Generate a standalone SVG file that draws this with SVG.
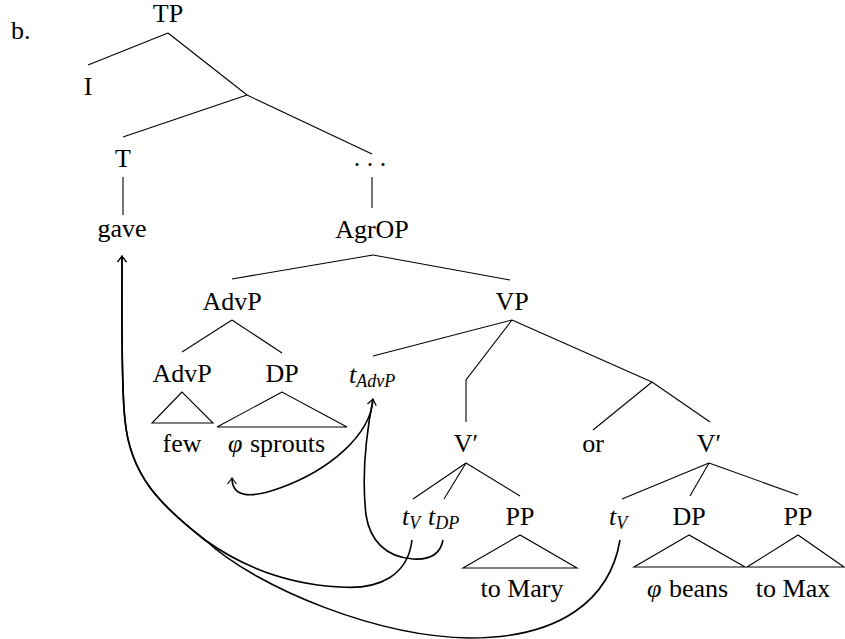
<svg xmlns="http://www.w3.org/2000/svg" width="845" height="639" viewBox="0 0 845 639">
<style>
text{font-size:26px;fill:#000}
.m{text-anchor:middle}
.i{font-style:italic}
.s{font-size:18px;font-style:italic}
.e{fill:none;stroke:#000;stroke-width:1.1}
.a{fill:none;stroke:#000;stroke-width:1.6}
</style>
<defs>
<marker id="arr" viewBox="-7 -6 9 12" markerWidth="9" markerHeight="12" refX="0" refY="0" orient="auto" markerUnits="userSpaceOnUse">
<path d="M -6,-4.5 Q -1.5,-1 0,0 Q -1.5,1 -6,4.5" fill="none" stroke="#000" stroke-width="1.2"/>
</marker>
</defs>
<rect width="845" height="639" fill="#fff"/>
<g font-family="'Liberation Serif', 'Times New Roman', 'DejaVu Serif', serif">
<text x="11" y="39">b.</text>
<g id="edges">
<path class="e" d="M168,33 L88,65"/>
<path class="e" d="M168,33 L247,95"/>
<path class="e" d="M247,95 L123,137"/>
<path class="e" d="M247,95 L372,154"/>
<path class="e" d="M123,177 L123,215"/>
<path class="e" d="M372,177 L372,208"/>
<path class="e" d="M373,255 L232,279"/>
<path class="e" d="M373,255 L510,280"/>
<path class="e" d="M232,320 L182,352"/>
<path class="e" d="M232,320 L282,353"/>
<path class="e" d="M512,320 L373,356"/>
<path class="e" d="M512,320 L466,380 L466,422"/>
<path class="e" d="M512,320 L652,382"/>
<path class="e" d="M652,382 L593,430"/>
<path class="e" d="M652,382 L710,422"/>
<path class="e" d="M466,463 L413,499"/>
<path class="e" d="M466,463 L444,499"/>
<path class="e" d="M466,463 L520,496"/>
<path class="e" d="M709,463 L622,499"/>
<path class="e" d="M709,463 L690,496"/>
<path class="e" d="M709,463 L798,495"/>
<path class="e" d="M182,392 L152,423 L213,423 Z"/>
<path class="e" d="M282,392 L217,427 L347,427 Z"/>
<path class="e" d="M520,535 L463,568 L577,568 Z"/>
<path class="e" d="M689,535 L634,567 L745,567 Z"/>
<path class="e" d="M798,535 L747,567 L844,567 Z"/>
</g>
<g id="arrows">
<path class="a" marker-end="url(#arr)" d="M443,540 C440,556 428,560 413,559 C385,557 370,540 366,515 C362,480 365,440 373,399"/>
<path class="a" marker-end="url(#arr)" d="M373,400 C370,435 330,470 280,488 C255,497 232,500 232,478"/>
<path class="a" marker-end="url(#arr)" d="M412,540 C408,575 380,590 340,587 C285,584 240,565 205,540 C160,505 130,475 125,420 C121,385 122,320 122,256"/>
<path class="a" marker-end="url(#arr)" d="M620,540 C610,600 560,638 470,638 C380,637 260,590 205,540 C160,505 130,475 125,420 C121,385 122,320 122,256"/>
</g>
<g id="n-TP"><text class="m" x="168" y="22">TP</text></g>
<g id="n-I"><text class="m" x="88" y="95">I</text></g>
<g id="n-T"><text class="m" x="123" y="167">T</text></g>
<g id="n-dots"><text class="m" x="370" y="166">. . .</text></g>
<g id="n-gave"><text class="m" x="122" y="237">gave</text></g>
<g id="n-AgrOP"><text class="m" x="372" y="238">AgrOP</text></g>
<g id="n-AdvP1"><text class="m" x="232" y="310">AdvP</text></g>
<g id="n-VP"><text class="m" x="512" y="310">VP</text></g>
<g id="n-AdvP2"><text class="m" x="182" y="382">AdvP</text></g>
<g id="n-DP1"><text class="m" x="282" y="382">DP</text></g>
<g id="n-tAdvP"><text x="349" y="383"><tspan class="i">t</tspan><tspan class="s" dy="4">AdvP</tspan></text></g>
<g id="n-few"><text class="m" x="182" y="452">few</text></g>
<g id="n-sprouts"><text class="i" x="228" y="452">φ</text><text x="250" y="452">sprouts</text></g>
<g id="n-V1"><text class="m" x="466" y="452">V′</text></g>
<g id="n-or"><text class="m" x="593" y="452">or</text></g>
<g id="n-V2"><text class="m" x="709" y="452">V′</text></g>
<g id="n-tV1"><text x="402" y="525"><tspan class="i">t</tspan><tspan class="s" dy="4">V</tspan></text></g>
<g id="n-tDP"><text x="428" y="525"><tspan class="i">t</tspan><tspan class="s" dy="4">DP</tspan></text></g>
<g id="n-PP1"><text class="m" x="520" y="525">PP</text></g>
<g id="n-tV2"><text x="609" y="525"><tspan class="i">t</tspan><tspan class="s" dy="4">V</tspan></text></g>
<g id="n-DP2"><text class="m" x="689" y="525">DP</text></g>
<g id="n-PP2"><text class="m" x="798" y="525">PP</text></g>
<g id="n-mary"><text class="m" x="522" y="597">to Mary</text></g>
<g id="n-beans"><text class="i" x="647" y="597">φ</text><text x="669" y="597">beans</text></g>
<g id="n-max"><text class="m" x="793" y="597">to Max</text></g>
</g>
</svg>
